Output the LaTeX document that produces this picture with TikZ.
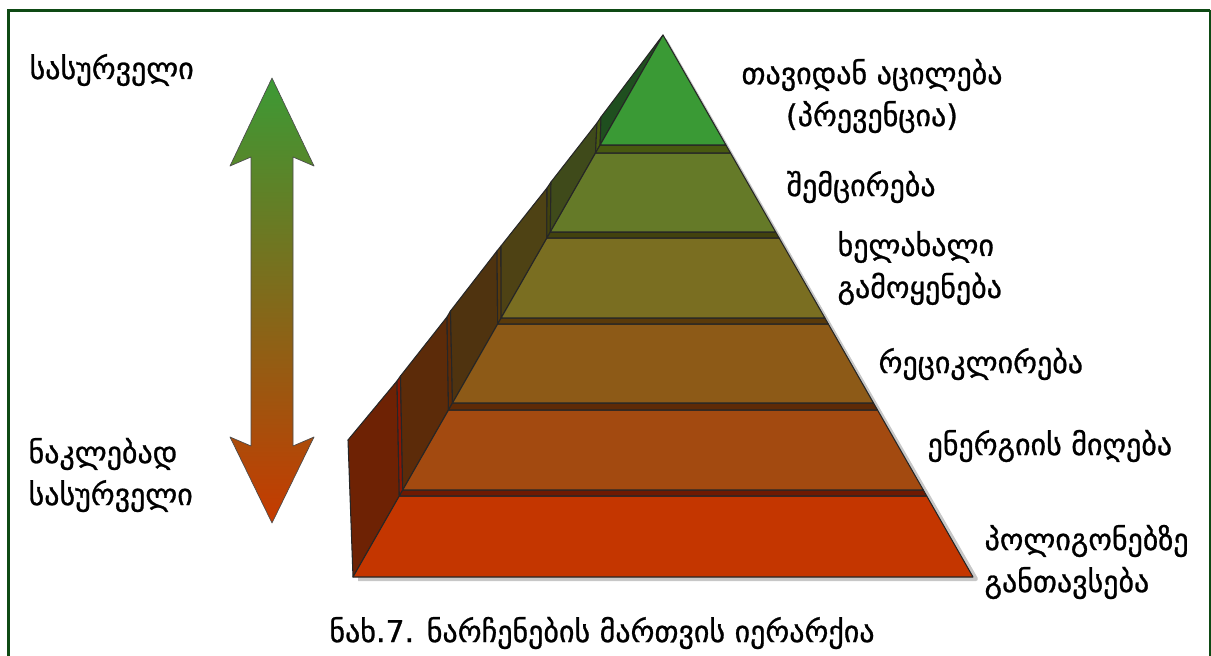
\documentclass[tikz,border=0pt]{standalone}
\usepackage{fontspec}
\setmainfont{DejaVu Sans}[FakeBold=0.9]
\definecolor{frameGreen}{HTML}{0E4A14}
\definecolor{layA}{HTML}{C43600}
\definecolor{layB}{HTML}{A34A10}
\definecolor{layC}{HTML}{8D5A17}
\definecolor{layD}{HTML}{7A6E21}
\definecolor{layE}{HTML}{657A28}
\definecolor{layF}{HTML}{3A9A35}
\definecolor{stripA}{HTML}{6E1A02}
\definecolor{stripB}{HTML}{5E2A06}
\definecolor{stripC}{HTML}{5A3A0A}
\definecolor{stripD}{HTML}{42420E}
\definecolor{stripE}{HTML}{485A10}
\definecolor{wallA}{HTML}{6E2204}
\definecolor{wallB}{HTML}{5C2B09}
\definecolor{wallC}{HTML}{4F330F}
\definecolor{wallD}{HTML}{4E4214}
\definecolor{wallE}{HTML}{3F4A1A}
\definecolor{wallF}{HTML}{1F4F1F}
\definecolor{arrowTop}{HTML}{3C9A35}
\definecolor{arrowMid}{HTML}{7A6A20}
\definecolor{arrowBot}{HTML}{C63A00}
\begin{document}
\begin{tikzpicture}[x=0.75pt,y=-0.75pt,
  face/.style={draw=black!85, line width=0.8pt, line join=round},
  txt/.style={font=\fontsize{22.5}{31.5}\selectfont, inner sep=1pt, align=left},
  lbl/.style={txt, fill=white},
  frame/.style={draw=frameGreen, line cap=butt},
]
\useasboundingbox (0,0) rectangle (1211,656);

% open green frame
\draw[frame, line width=2.25pt] (8,656) -- (8,11) -- (1210,11);
\draw[frame, line width=1.5pt] (1210,10) -- (1210,656);

% soft shadow along the pyramid's right side and base
\draw[black, opacity=0.22, line width=3pt, line join=round] (665,40) -- (976,579) -- (358,579);

% labels (white boxes sit over the shadow)
\node[lbl, align=center] (prev) at (872,96) {თავიდან აცილება\\(პრევენცია)};
\node[lbl, anchor=west] (red) at (785,187) {შემცირება};
\node[lbl, anchor=west] (reuse) at (836,268) {ხელახალი\\გამოყენება};
\node[lbl, anchor=west] (recyc) at (877,364) {რეციკლირება};
\node[lbl, anchor=west] (energy) at (926,446) {ენერგიის მიღება};
\node[lbl, anchor=west] (landf) at (983,562) {პოლიგონებზე\\განთავსება};

% left walls of the steps
\fill[face, fill=wallA] (353,577) -- (348,440) -- (397,381) -- (399.3,496) -- cycle;
\fill[face, fill=stripA!80!red] (399.3,496) -- (397,381) -- (400.5,376) -- (402.7,490) -- cycle;
\fill[face, fill=wallB] (402.7,490) -- (400.5,376) -- (447,317) -- (448.5,410) -- cycle;
\fill[face, fill=stripB] (448.5,410) -- (447,317) -- (450.5,311) -- (452.5,403) -- cycle;
\fill[face, fill=wallC] (452.5,403) -- (450.5,311) -- (497,251) -- (497.7,324) -- cycle;
\fill[face, fill=stripC] (497.7,324) -- (497,251) -- (501,246) -- (501.1,318) -- cycle;
\fill[face, fill=wallD] (501.1,318) -- (501,246) -- (547,188) -- (546.9,238) -- cycle;
\fill[face, fill=stripD] (546.9,238) -- (547,188) -- (551,182) -- (550.3,232) -- cycle;
\fill[face, fill=wallE] (550.3,232) -- (551,182) -- (597,123) -- (595.5,153) -- cycle;
\fill[face, fill=stripE] (595.5,153) -- (597,123) -- (601,117) -- (600.1,145) -- cycle;
\fill[face, fill=wallF] (600.1,145) -- (601,117) -- (663,35) -- cycle;

% front faces of the steps and the thin top surfaces between them
\fill[face, fill=layA] (353,577) -- (973,577) -- (926.7,496) -- (399.3,496) -- cycle;
\fill[face, fill=stripA] (399.3,496) -- (926.7,496) -- (923.3,490) -- (402.7,490) -- cycle;
\fill[face, fill=layB] (402.7,490) -- (923.3,490) -- (877.5,410) -- (448.5,410) -- cycle;
\fill[face, fill=stripB] (448.5,410) -- (877.5,410) -- (873.5,403) -- (452.5,403) -- cycle;
\fill[face, fill=layC] (452.5,403) -- (873.5,403) -- (828.3,324) -- (497.7,324) -- cycle;
\fill[face, fill=stripC] (497.7,324) -- (828.3,324) -- (824.9,318) -- (501.1,318) -- cycle;
\fill[face, fill=layD] (501.1,318) -- (824.9,318) -- (779.1,238) -- (546.9,238) -- cycle;
\fill[face, fill=stripD] (546.9,238) -- (779.1,238) -- (775.7,232) -- (550.3,232) -- cycle;
\fill[face, fill=layE] (550.3,232) -- (775.7,232) -- (730.5,153) -- (595.5,153) -- cycle;
\fill[face, fill=stripE] (595.5,153) -- (730.5,153) -- (725.9,145) -- (600.1,145) -- cycle;
\fill[face, fill=layF] (600.1,145) -- (725.9,145) -- (663,35) -- cycle;

% double-headed scale arrow
\shade[top color=arrowTop, middle color=arrowMid, bottom color=arrowBot, draw=black!70, line width=0.5pt, line join=round]
  (272,78) -- (314,166) -- (293,157) -- (293,446) -- (314,437) -- (272,523)
  -- (230,437) -- (251,446) -- (251,157) -- (230,166) -- cycle;

% side labels and caption
\node[txt, anchor=west] (best) at (28,70) {სასურველი};
\node[txt, anchor=west] (worst) at (27,475) {ნაკლებად\\სასურველი};
\node[txt] (caption) at (602,633) {ნახ.7. ნარჩენების მართვის იერარქია};
\end{tikzpicture}
\end{document}
